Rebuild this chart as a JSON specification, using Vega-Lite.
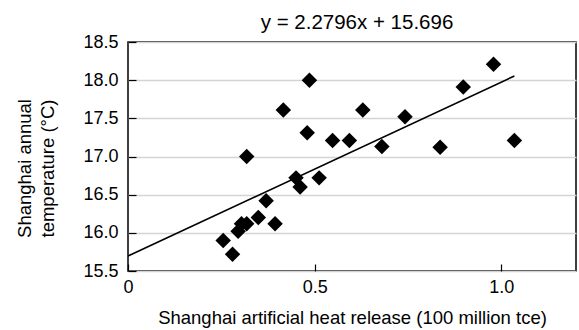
{
  "$schema": "https://vega.github.io/schema/vega-lite/v6.json",
  "width": 448,
  "height": 229,
  "autosize": {"type": "none"},
  "padding": {"left": 128, "top": 42, "right": 3, "bottom": 59},
  "background": "#ffffff",
  "title": {
    "text": "y = 2.2796x + 15.696",
    "font": "Liberation Sans",
    "fontSize": 20.5,
    "fontWeight": "normal",
    "color": "#000000",
    "anchor": "middle",
    "dx": 5,
    "offset": 0
  },
  "config": {
    "font": "Liberation Sans",
    "view": {"stroke": "#000000", "strokeWidth": 1.5}
  },
  "datasets": {
    "points": [
      {"heat": 0.255, "temp": 15.90},
      {"heat": 0.280, "temp": 15.72},
      {"heat": 0.295, "temp": 16.02},
      {"heat": 0.304, "temp": 16.12},
      {"heat": 0.318, "temp": 16.12},
      {"heat": 0.318, "temp": 17.00},
      {"heat": 0.349, "temp": 16.20},
      {"heat": 0.370, "temp": 16.42},
      {"heat": 0.394, "temp": 16.12},
      {"heat": 0.416, "temp": 17.61},
      {"heat": 0.450, "temp": 16.72},
      {"heat": 0.461, "temp": 16.60},
      {"heat": 0.480, "temp": 17.31},
      {"heat": 0.486, "temp": 18.00},
      {"heat": 0.512, "temp": 16.72},
      {"heat": 0.548, "temp": 17.21},
      {"heat": 0.593, "temp": 17.21},
      {"heat": 0.629, "temp": 17.61},
      {"heat": 0.680, "temp": 17.13},
      {"heat": 0.742, "temp": 17.52},
      {"heat": 0.836, "temp": 17.12},
      {"heat": 0.898, "temp": 17.91},
      {"heat": 0.979, "temp": 18.21},
      {"heat": 1.035, "temp": 17.21}
    ],
    "fit": [
      {"heat": 0.0, "temp": 15.696},
      {"heat": 1.035, "temp": 18.055}
    ]
  },
  "layer": [
    {
      "data": {"name": "points"},
      "mark": {"type": "point", "shape": "diamond", "filled": true, "size": 240, "color": "#000000", "opacity": 1},
      "encoding": {
        "x": {
          "field": "heat",
          "type": "quantitative",
          "scale": {"domain": [0, 1.2], "nice": false, "zero": false},
          "axis": {
            "title": "Shanghai artificial heat release (100 million tce)",
            "values": [0, 0.5, 1.0],
            "tickCount": 10,
            "labelExpr": "datum.value == 0 ? '0' : format(datum.value, '.1f')",
            "grid": false,
            "domain": false,
            "tickSize": -7,
            "tickColor": "#000000",
            "tickWidth": 1.2,
            "labelFontSize": 18,
            "labelColor": "#000000",
            "labelPadding": 14,
            "labelFlush": false,
            "labelOverlap": false,
            "titleFontSize": 18.5,
            "titleFontWeight": "normal",
            "titleColor": "#000000",
            "titlePadding": 12
          }
        },
        "y": {
          "field": "temp",
          "type": "quantitative",
          "scale": {"domain": [15.5, 18.5], "nice": false, "zero": false},
          "axis": {
            "title": ["Shanghai annual", "temperature (°C)"],
            "values": [15.5, 16.0, 16.5, 17.0, 17.5, 18.0, 18.5],
            "tickCount": 10,
            "format": ".1f",
            "grid": true,
            "gridColor": "#d4d4d4",
            "gridWidth": 1.5,
            "domain": false,
            "tickSize": -8,
            "tickColor": "#000000",
            "tickWidth": 1.2,
            "labelFontSize": 18,
            "labelColor": "#000000",
            "labelPadding": 18,
            "labelOverlap": false,
            "labelFlush": false,
            "titleFontSize": 18.5,
            "titleFontWeight": "normal",
            "titleColor": "#000000",
            "titleLineHeight": 23,
            "titlePadding": 25,
            "titleY": 126
          }
        }
      }
    },
    {
      "data": {"name": "fit"},
      "mark": {"type": "line", "color": "#000000", "strokeWidth": 1.6},
      "encoding": {
        "x": {"field": "heat", "type": "quantitative"},
        "y": {"field": "temp", "type": "quantitative"}
      }
    }
  ]
}
